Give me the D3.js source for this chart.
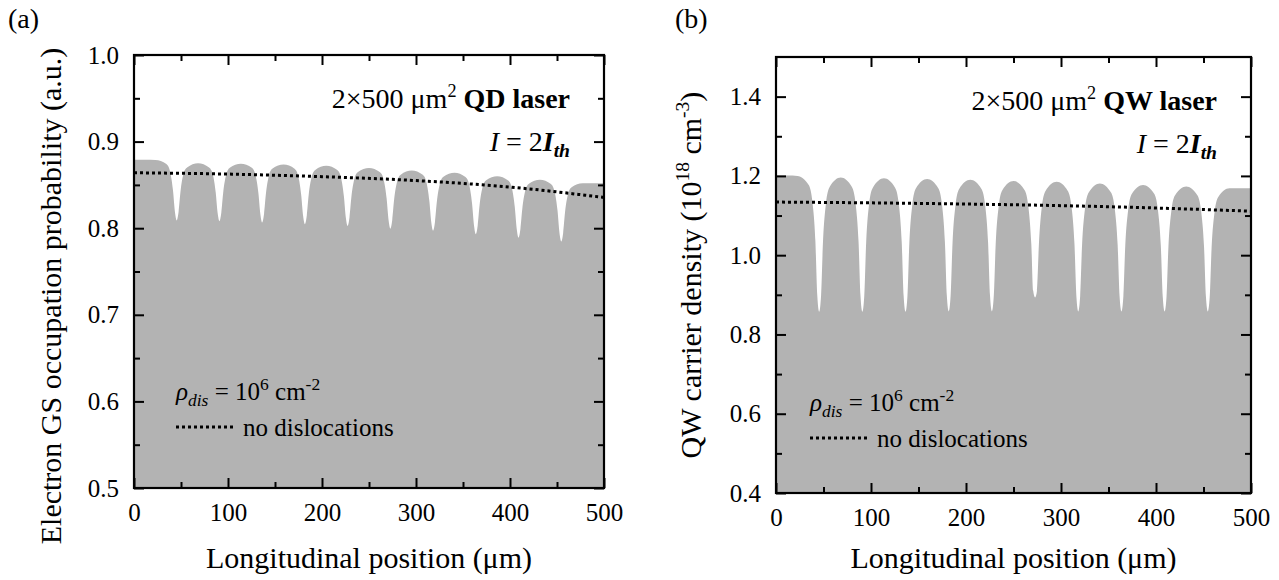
<!DOCTYPE html>
<html>
<head>
<meta charset="utf-8">
<script src="https://cdn.jsdelivr.net/npm/d3@7"></script>
<style>
  body { margin: 0; background: #fff; }
  svg text { font-family: "Liberation Serif", "Times New Roman", serif; fill: #000; }
</style>
</head>
<body>
<svg id="chart" width="1279" height="580"></svg>
<script>
// ticks
const xMajor = [0, 100, 200, 300, 400, 500];
const xMinor = [50, 150, 250, 350, 450];
const qdYMajor = [0.5, 0.6, 0.7, 0.8, 0.9, 1.0];
const qdYMinor = [0.55, 0.65, 0.75, 0.85, 0.95];
const qwYMajor = [0.4, 0.6, 0.8, 1.0, 1.2, 1.4];
const qwYMinor = [0.5, 0.7, 0.9, 1.1, 1.3];

// (a) QD laser, electron GS occupation, rho_dis = 1e6 cm^-2  [position um, value]
const qdDislocations = [
  [0,0.879],[12,0.879],[22.7,0.8788],
  [34.45,0.874],[38.45,0.865],[41.45,0.844],[43.45,0.8195],[45.45,0.809],
  [47.45,0.819],[49.45,0.842],[52.45,0.862],[56.45,0.870],[68.18,0.875],[79.91,0.870],[83.91,0.8616],[86.91,0.8415],[88.91,0.818],[90.91,0.808],
  [92.91,0.818],[94.91,0.8413],[97.91,0.8612],[101.91,0.8698],[113.64,0.8745],[125.36,0.8697],[129.36,0.8609],[132.36,0.8405],[134.36,0.8167],[136.36,0.8065],
  [138.36,0.8166],[140.36,0.840],[143.36,0.8601],[147.36,0.8688],[159.09,0.8735],[170.82,0.8687],[174.82,0.8597],[177.82,0.839],[179.82,0.8149],[181.82,0.8045],
  [183.82,0.8146],[185.82,0.8383],[188.82,0.8585],[192.82,0.8673],[204.55,0.872],[216.27,0.8671],[220.27,0.8581],[223.27,0.8373],[225.27,0.8129],[227.27,0.8025],
  [229.27,0.8126],[231.27,0.836],[234.27,0.8561],[238.27,0.8648],[250,0.8695],[261.73,0.8646],[265.73,0.8555],[268.73,0.8345],[270.73,0.810],[272.73,0.7995],
  [274.73,0.8096],[276.73,0.833],[279.73,0.8531],[283.73,0.8618],[295.45,0.8665],[307.18,0.8616],[311.18,0.8526],[314.18,0.8318],[316.18,0.8074],[318.18,0.797],
  [320.18,0.8071],[322.18,0.8305],[325.18,0.8506],[329.18,0.8593],[340.91,0.864],[352.64,0.859],[356.64,0.8498],[359.64,0.8285],[361.64,0.8037],[363.64,0.793],
  [365.64,0.8031],[367.64,0.8265],[370.64,0.8466],[374.64,0.8553],[386.36,0.860],[398.09,0.855],[402.09,0.8458],[405.09,0.8245],[407.09,0.7997],[409.09,0.789],
  [411.09,0.7991],[413.09,0.8225],[416.09,0.8426],[420.09,0.8513],[431.82,0.856],[443.55,0.851],[447.55,0.8417],[450.55,0.8203],[452.55,0.7952],[454.55,0.7845],
  [456.55,0.7946],[458.55,0.8183],[461.55,0.8385],[465.55,0.8473],[477.27,0.852],[490,0.852],[500,0.852]
];
const qdNoDislocations = [[0,0.864],[100,0.8625],[200,0.8595],[300,0.855],[400,0.8475],[500,0.8355]];

// (b) QW laser, carrier density (1e18 cm^-3)
const qwDislocations = [
  [0,1.201],[12,1.201],[22.7,1.200],
  [34.45,1.177],[38.45,1.132],[41.45,1.036],[43.45,0.898],[45.45,0.857],
  [47.45,0.898],[49.45,1.033],[52.45,1.128],[56.45,1.172],[68.18,1.196],[79.91,1.172],[83.91,1.128],[86.91,1.033],[88.91,0.898],[90.91,0.857],
  [92.91,0.897],[94.91,1.032],[97.91,1.127],[101.91,1.170],[113.64,1.194],[125.36,1.170],[129.36,1.127],[132.36,1.032],[134.36,0.897],[136.36,0.857],
  [138.36,0.897],[140.36,1.031],[143.36,1.125],[147.36,1.169],[159.09,1.192],[170.82,1.169],[174.82,1.126],[177.82,1.032],[179.82,0.898],[181.82,0.858],
  [183.82,0.898],[185.82,1.031],[188.82,1.124],[192.82,1.167],[204.55,1.190],[216.27,1.167],[220.27,1.124],[223.27,1.031],[225.27,0.898],[227.27,0.858],
  [229.27,0.898],[231.27,1.029],[234.27,1.121],[238.27,1.164],[250,1.187],[261.73,1.164],[265.73,1.121],[268.73,1.029],[270.73,0.910],[272.73,0.893],
  [274.73,0.910],[276.73,1.027],[279.73,1.120],[283.73,1.162],[295.45,1.185],[307.18,1.162],[311.18,1.120],[314.18,1.028],[316.18,0.897],[318.18,0.858],
  [320.18,0.897],[322.18,1.026],[325.18,1.116],[329.18,1.158],[340.91,1.181],[352.64,1.158],[356.64,1.116],[359.64,1.026],[361.64,0.897],[363.64,0.858],
  [365.64,0.896],[367.64,1.024],[370.64,1.113],[374.64,1.155],[386.36,1.177],[398.09,1.155],[402.09,1.113],[405.09,1.024],[407.09,0.896],[409.09,0.858],
  [411.09,0.896],[413.09,1.022],[416.09,1.110],[420.09,1.151],[431.82,1.173],[443.55,1.151],[447.55,1.110],[450.55,1.022],[452.55,0.896],[454.55,0.858],
  [456.55,0.895],[458.55,1.020],[461.55,1.107],[465.55,1.147],[477.27,1.169],[490,1.169],[500,1.169]
];
const qwNoDislocations = [[0,1.134],[100,1.132],[200,1.129],[300,1.125],[400,1.119],[500,1.111]];

const svg = d3.select("#chart");
const DOTS = "3,3";

function addTicks(g, axisFn, scale, tr, major, minor, fmt) {
  const gm = g.append("g").attr("transform", tr)
    .call(axisFn(scale).tickValues(major).tickSize(-10).tickSizeOuter(0).tickPadding(15).tickFormat(fmt || ""));
  gm.attr("font-size", 25).attr("font-family", null);
  gm.select(".domain").remove();
  gm.selectAll("line").attr("stroke-width", 2);
  const gn = g.append("g").attr("transform", tr)
    .call(axisFn(scale).tickValues(minor).tickSize(-6).tickSizeOuter(0).tickFormat(""));
  gn.select(".domain").remove();
  gn.selectAll("line").attr("stroke-width", 2);
}

function panel(o) {
  const x = d3.scaleLinear().domain([0, 500]).range([o.left, o.right]);
  const y = d3.scaleLinear().domain(o.yDomain).range([o.bottom, o.top]);
  const g = svg.append("g");

  const area = d3.area()
    .x(d => x(d[0]))
    .y0(y(o.yDomain[0]))
    .y1(d => y(d[1]))
    .curve(d3.curveMonotoneX);
  g.append("path").datum(o.fill).attr("d", area).attr("fill", "#b3b3b3");

  const line = d3.line().x(d => x(d[0])).y(d => y(d[1])).curve(d3.curveMonotoneX);
  g.append("path").datum(o.ref).attr("d", line)
    .attr("fill", "none").attr("stroke", "#000")
    .attr("stroke-width", 3).attr("stroke-dasharray", DOTS);

  addTicks(g, d3.axisBottom, x, `translate(0,${o.bottom})`, xMajor, xMinor, d3.format("d"));
  addTicks(g, d3.axisTop, x, `translate(0,${o.top})`, xMajor, xMinor, null);
  addTicks(g, d3.axisLeft, y, `translate(${o.left},0)`, o.yMajor, o.yMinor, d3.format(".1f"));
  addTicks(g, d3.axisRight, y, `translate(${o.right},0)`, o.yMajor, o.yMinor, null);

  g.append("rect")
    .attr("x", o.left).attr("y", o.top)
    .attr("width", o.right - o.left).attr("height", o.bottom - o.top)
    .attr("fill", "none").attr("stroke", "#000").attr("stroke-width", 2.2);

  // panel letter
  g.append("text").attr("x", o.tagX).attr("y", 28).attr("font-size", 28).text(o.tag);

  // x title
  g.append("text")
    .attr("x", (o.left + o.right) / 2).attr("y", 568)
    .attr("text-anchor", "middle").attr("font-size", 30)
    .text("Longitudinal position (\u03bcm)");

  // y title
  const yt = g.append("text")
    .attr("transform", `translate(${o.yTitleX},${o.yTitleY}) rotate(-90)`)
    .attr("text-anchor", "middle").attr("font-size", 30);
  o.yTitle(yt);

  // annotation
  const ax = o.right - 34;
  const t1 = g.append("text").attr("x", ax).attr("y", o.top + 53)
    .attr("text-anchor", "end").attr("font-size", 28);
  t1.append("tspan").text("2\u00d7500 \u03bcm");
  t1.append("tspan").attr("font-size", "0.65em").attr("dy", -11).text("2");
  t1.append("tspan").attr("dy", 11).text(" ");
  t1.append("tspan").attr("font-weight", "bold").text(o.device + " laser");

  const t2 = g.append("text").attr("x", ax).attr("y", o.top + 96)
    .attr("text-anchor", "end").attr("font-size", 28);
  t2.append("tspan").attr("font-style", "italic").text("I");
  t2.append("tspan").text(" = 2");
  t2.append("tspan").attr("font-style", "italic").attr("font-weight", "bold").text("I");
  t2.append("tspan").attr("font-style", "italic").attr("font-weight", "bold")
    .attr("font-size", "0.7em").attr("dy", 6).text("th");

  // legend
  const lx = o.left + o.legDx;
  const r = g.append("text").attr("x", lx).attr("y", o.top + o.legY).attr("font-size", 25);
  r.append("tspan").attr("font-style", "italic").text("\u03c1");
  r.append("tspan").attr("font-style", "italic").attr("font-size", "0.7em").attr("dy", 6).text("dis");
  r.append("tspan").attr("dy", -6).text(" = 10");
  r.append("tspan").attr("font-size", "0.7em").attr("dy", -10).text("6");
  r.append("tspan").attr("dy", 10).text(" cm");
  r.append("tspan").attr("font-size", "0.7em").attr("dy", -10).text("-2");

  g.append("line")
    .attr("x1", lx).attr("x2", lx + 58)
    .attr("y1", o.top + o.legY + 27).attr("y2", o.top + o.legY + 27)
    .attr("stroke", "#000").attr("stroke-width", 3).attr("stroke-dasharray", DOTS);
  g.append("text").attr("x", lx + 67).attr("y", o.top + o.legY + 36)
    .attr("font-size", 25).text("no dislocations");
}

panel({
  left: 134, right: 604, top: 55, bottom: 488,
  yDomain: [0.5, 1.0], yMajor: qdYMajor, yMinor: qdYMinor,
  fill: qdDislocations, ref: qdNoDislocations,
  tag: "(a)", tagX: 8, device: "QD",
  yTitleX: 61, yTitleY: 296,
  yTitle: t => t.text("Electron GS occupation probability (a.u.)"),
  legDx: 42, legY: 345
});

panel({
  left: 776, right: 1251, top: 57, bottom: 493,
  yDomain: [0.4, 1.5], yMajor: qwYMajor, yMinor: qwYMinor,
  fill: qwDislocations, ref: qwNoDislocations,
  tag: "(b)", tagX: 675, device: "QW",
  yTitleX: 701, yTitleY: 275,
  yTitle: t => {
    t.append("tspan").text("QW carrier density (10");
    t.append("tspan").attr("font-size", "0.65em").attr("dy", -12).text("18");
    t.append("tspan").attr("dy", 12).text(" cm");
    t.append("tspan").attr("font-size", "0.65em").attr("dy", -12).text("-3");
    t.append("tspan").attr("dy", 12).text(")");
  },
  legDx: 34, legY: 354
});
</script>
</body>
</html>
